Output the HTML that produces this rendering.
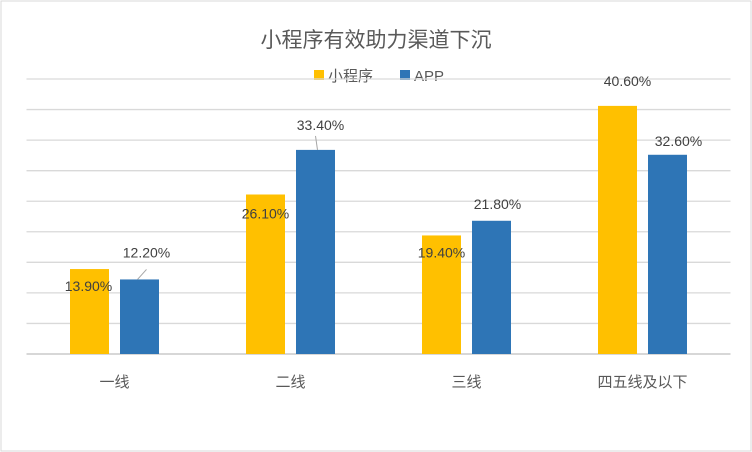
<!DOCTYPE html>
<html><head><meta charset="utf-8"><style>
body{margin:0;background:#fff}
svg{display:block;font-family:"Liberation Sans","Noto Sans CJK SC",sans-serif}
</style></head><body>
<svg width="752" height="452" id="c">
<rect x="1" y="1" width="750" height="450" fill="#fff" stroke="#d9d9d9"/>
<text x="376" y="47" text-anchor="middle" font-size="21" fill="#595959">小程序有效助力渠道下沉</text>
<g>
<rect x="314" y="70" width="10" height="10" fill="#ffc000"/>
<text x="328" y="81" font-size="15" fill="#595959">小程序</text>
<rect x="400" y="70" width="10" height="10" fill="#2e75b6"/>
<text x="414" y="81" font-size="15" fill="#595959">APP</text>
</g>
<g id="grid"></g><g id="bars"></g><g id="labels"></g>
</svg>
<script>
const categories=["一线","二线","三线","四五线及以下"];
const seriesMini=[13.9,26.1,19.4,40.6];
const seriesApp=[12.2,33.4,21.8,32.6];
const miniLabels=["13.90%","26.10%","19.40%","40.60%"];
const appLabels=["12.20%","33.40%","21.80%","32.60%"];
const yMax=45, yStep=5;
const L=26.5,R=730.5,B=354,T=79;
const y=v=>B-(v/yMax)*(B-T);
const cw=(R-L)/categories.length;
const cx=i=>L+cw*(i+0.5);
const ns="http://www.w3.org/2000/svg";
function mk(tag,attrs,parent){const e=document.createElementNS(ns,tag);for(const k in attrs)e.setAttribute(k,attrs[k]);document.getElementById(parent).appendChild(e);return e;}
for(let v=0;v<=yMax;v+=yStep){
 const g=mk('line',{x1:L,x2:R,y1:y(v),y2:y(v),stroke:v===0?'#bfbfbf':'#d9d9d9','stroke-width':1.3},'grid');
 
 
}
const bw=39;
// label offsets (layout only)
const miniOff=[[-1,22],[0,24],[0,22],[10,-20]];
const appOff=[[7,-22],[5,-20],[6,-12],[11,-9]];
categories.forEach((c,i)=>{
 const xm=cx(i)-44.5, xa=cx(i)+5.5;
 const b1=mk('rect',{x:xm,y:y(seriesMini[i]),width:bw,height:B-y(seriesMini[i]),fill:'#ffc000'},'bars');
 
 
 const b2=mk('rect',{x:xa,y:y(seriesApp[i]),width:bw,height:B-y(seriesApp[i]),fill:'#2e75b6'},'bars');
 
 
 const t=mk('text',{x:cx(i),y:387,'text-anchor':'middle','font-size':15,fill:'#595959'},'labels');t.textContent=c;
 
 
 const l1=mk('text',{x:xm+bw/2+miniOff[i][0],y:y(seriesMini[i])+miniOff[i][1],'text-anchor':'middle','font-size':14,fill:'#404040'},'labels');l1.textContent=miniLabels[i];
 
 
 const l2=mk('text',{x:xa+bw/2+appOff[i][0],y:y(seriesApp[i])+appOff[i][1],'text-anchor':'middle','font-size':14,fill:'#404040'},'labels');l2.textContent=appLabels[i];
 
 
 if(i<2){
  const ln=mk('line',{x1:xa+bw/2+(i===0?-2:2),y1:y(seriesApp[i]),x2:xa+bw/2+(i===0?7:0),y2:y(seriesApp[i])+(i===0?-10:-14),stroke:'#a6a6a6'},'labels');
  
  
 }
});
</script>
</body></html>
